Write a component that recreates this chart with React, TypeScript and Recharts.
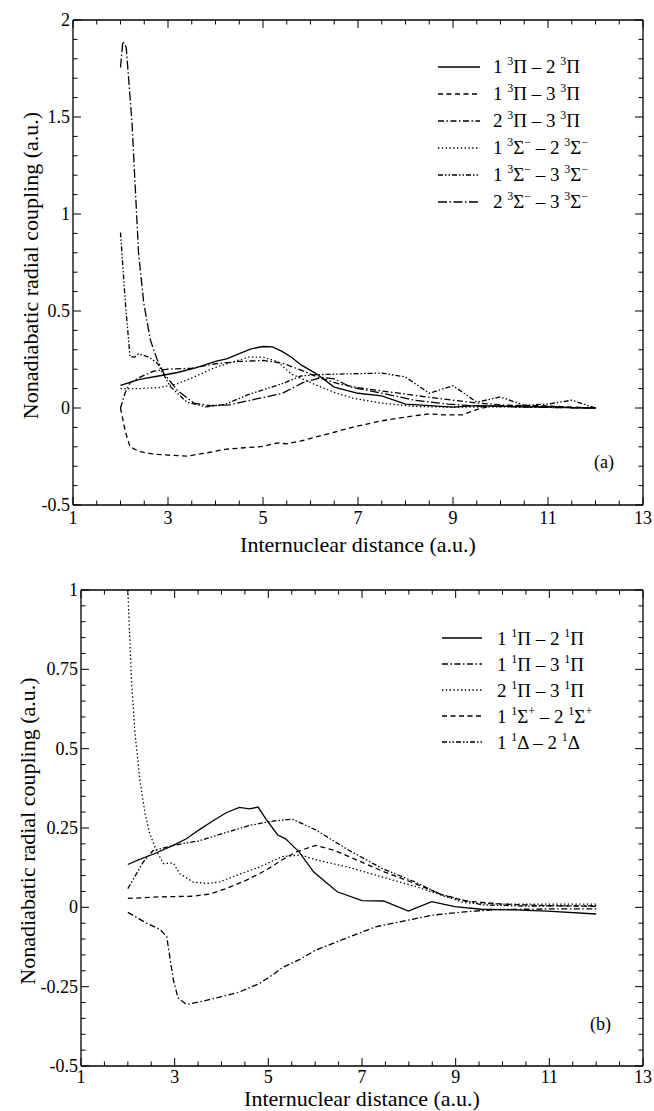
import React from 'react';
import { LineChart, Line, XAxis, YAxis, Legend, Label } from 'recharts';

const FONT = '"Liberation Serif", "Times New Roman", serif';

type Pt = [number, number];

// ---------- tick values ----------
const xTicks = [1, 1.5, 2, 2.5, 3, 3.5, 4, 4.5, 5, 5.5, 6, 6.5, 7, 7.5, 8, 8.5, 9, 9.5, 10, 10.5, 11, 11.5, 12, 12.5, 13];
const xLabels = [1, 3, 5, 7, 9, 11, 13];
const aYTicks = [-0.5, -0.4, -0.3, -0.2, -0.1, 0, 0.1, 0.2, 0.3, 0.4, 0.5, 0.6, 0.7, 0.8, 0.9, 1, 1.1, 1.2, 1.3, 1.4, 1.5, 1.6, 1.7, 1.8, 1.9, 2];
const aYLabels = [-0.5, 0, 0.5, 1, 1.5, 2];
const bYTicks = [-0.5, -0.45, -0.4, -0.35, -0.3, -0.25, -0.2, -0.15, -0.1, -0.05, 0, 0.05, 0.1, 0.15, 0.2, 0.25, 0.3, 0.35, 0.4, 0.45, 0.5, 0.55, 0.6, 0.65, 0.7, 0.75, 0.8, 0.85, 0.9, 0.95, 1];
const bYLabels = [-0.5, -0.25, 0, 0.25, 0.5, 0.75, 1];

// ---------- panel (a) series ----------
const a1: Pt[] = [[2,0.117],[2.4,0.148],[2.8,0.165],[3.2,0.183],[3.6,0.208],[4,0.24],[4.25,0.255],[4.5,0.28],[4.75,0.305],[5,0.317],[5.2,0.315],[5.4,0.292],[5.6,0.262],[5.8,0.222],[6.1,0.18],[6.5,0.108],[7,0.076],[7.5,0.062],[8,0.02],[8.5,0.012],[9,0.005],[9.5,0.012],[10,0.01],[10.5,0.006],[11,0.008],[11.5,0.002],[12,0]];
const a2: Pt[] = [[2,0],[2.1,-0.12],[2.2,-0.2],[2.4,-0.225],[2.7,-0.238],[3,-0.243],[3.4,-0.248],[3.8,-0.232],[4.2,-0.213],[4.6,-0.205],[5,-0.198],[5.3,-0.18],[5.5,-0.185],[5.8,-0.17],[6.1,-0.15],[6.5,-0.125],[6.9,-0.098],[7.5,-0.066],[8,-0.047],[8.5,-0.03],[8.8,-0.035],[9.2,-0.035],[9.5,-0.008],[9.8,0.01],[10.5,0.014],[11,0.01],[11.5,0.005],[12,0]];
const a3: Pt[] = [[2,0],[2.1,0.08],[2.2,0.13],[2.4,0.158],[2.7,0.19],[3,0.2],[3.5,0.205],[4,0.228],[4.5,0.24],[5,0.245],[5.4,0.232],[5.8,0.195],[6.2,0.155],[6.6,0.125],[7,0.105],[7.5,0.088],[8,0.072],[8.5,0.055],[9,0.04],[9.5,0.026],[10,0.016],[10.5,0.01],[11,0.006],[11.5,0.002],[12,0]];
const a4: Pt[] = [[2,0.1],[2.4,0.1],[2.8,0.105],[3.2,0.125],[3.6,0.165],[4,0.21],[4.4,0.24],[4.7,0.262],[5,0.262],[5.3,0.24],[5.6,0.175],[6.1,0.12],[6.5,0.08],[6.9,0.05],[7.5,0.025],[8.2,0.008],[9,0.004],[10,0.006],[11,0.003],[12,0]];
const a5: Pt[] = [[2,0.905],[2.1,0.55],[2.2,0.265],[2.3,0.262],[2.38,0.28],[2.6,0.262],[2.78,0.23],[3.05,0.11],[3.4,0.03],[3.8,0.006],[4.2,0.018],[4.7,0.07],[5.4,0.125],[5.8,0.165],[6.15,0.172],[6.8,0.176],[7.5,0.18],[8,0.16],[8.5,0.076],[9,0.115],[9.5,0.03],[10,0.057],[10.5,0.014],[11,0.02],[11.5,0.04],[12,0]];
const a6: Pt[] = [[2,1.755],[2.05,1.89],[2.12,1.86],[2.24,1.48],[2.31,1.14],[2.38,0.8],[2.49,0.54],[2.63,0.35],[2.77,0.25],[2.91,0.18],[3.2,0.09],[3.55,0.025],[3.9,0.012],[4.3,0.016],[4.73,0.04],[5.4,0.075],[5.85,0.132],[6.25,0.158],[6.5,0.15],[6.85,0.108],[7.5,0.076],[8.2,0.04],[8.9,0.02],[9.5,0.01],[10.5,0.005],[11.5,0.001],[12,0]];

// ---------- panel (b) series ----------
const b1: Pt[] = [[2,0.135],[2.2,0.148],[2.55,0.168],[2.97,0.195],[3.25,0.216],[3.53,0.245],[3.82,0.273],[4.1,0.298],[4.38,0.315],[4.6,0.31],[4.78,0.316],[4.95,0.278],[5.2,0.228],[5.37,0.216],[5.66,0.174],[5.97,0.111],[6.47,0.049],[7,0.021],[7.46,0.02],[7.99,-0.012],[8.49,0.018],[8.98,0.002],[9.55,-0.006],[10.26,-0.008],[10.96,-0.012],[12,-0.021]];
const b2: Pt[] = [[2,-0.016],[2.4,-0.05],[2.68,-0.069],[2.83,-0.092],[2.97,-0.227],[3.07,-0.285],[3.25,-0.306],[3.53,-0.298],[3.96,-0.283],[4.38,-0.267],[4.81,-0.24],[5.1,-0.212],[5.3,-0.19],[5.66,-0.165],[6.01,-0.135],[6.58,-0.102],[7.28,-0.062],[7.99,-0.04],[8.49,-0.025],[9.2,-0.014],[9.9,-0.007],[11,-0.005],[12,-0.005]];
const b3: Pt[] = [[2,1],[2.08,0.71],[2.15,0.554],[2.26,0.398],[2.37,0.294],[2.47,0.231],[2.61,0.179],[2.76,0.138],[2.97,0.14],[3.11,0.106],[3.39,0.08],[3.68,0.075],[3.96,0.08],[4.38,0.104],[4.81,0.127],[5.3,0.16],[5.7,0.165],[6.01,0.15],[6.72,0.126],[7.42,0.096],[8.13,0.066],[8.7,0.038],[9.2,0.014],[10,0.01],[11,0.01],[12,0.01]];
const b4: Pt[] = [[2,0.028],[2.68,0.033],[3.39,0.035],[3.75,0.042],[4.1,0.059],[4.52,0.085],[4.95,0.117],[5.3,0.15],[5.6,0.175],[6.01,0.195],[6.4,0.18],[6.72,0.16],[7.42,0.115],[8.13,0.075],[8.7,0.04],[9.2,0.02],[10,0.01],[11,0.005],[12,0.003]];
const b5: Pt[] = [[2,0.059],[2.33,0.143],[2.54,0.179],[2.97,0.195],[3.53,0.21],[4.1,0.236],[4.6,0.258],[5.1,0.272],[5.51,0.278],[6.01,0.244],[6.72,0.18],[7.42,0.123],[8.13,0.08],[8.7,0.04],[9.55,0.008],[10.5,0.004],[12,0.005]];

const DASH = {
  solid: undefined as string | undefined,
  dashed: '5 3.5',
  dashDot: '6 2.5 1.5 2.5',
  dotted: '1.4 2.4',
  dashDotDot: '5 2 1.5 2 1.5 2',
  longDashDot: '9 2.5 1.5 2.5',
};

const Sup = ({ children }: { children: React.ReactNode }) => (
  <span style={{ fontSize: 12, position: 'relative', top: -8 }}>{children}</span>
);

const lab = (a: string, s: string, sym: string, b: string, sign?: string) => (
  <>
    {a} <Sup>{s}</Sup>{sym}{sign ? <Sup>{sign}</Sup> : null} – {b} <Sup>{s}</Sup>{sym}{sign ? <Sup>{sign}</Sup> : null}
  </>
);

type Series = { key: string; pts: Pt[]; dash?: string; label: React.ReactNode };

const seriesA: Series[] = [
  { key: 'a1', pts: a1, dash: DASH.solid, label: lab('1', '3', 'Π', '2') },
  { key: 'a2', pts: a2, dash: DASH.dashed, label: lab('1', '3', 'Π', '3') },
  { key: 'a3', pts: a3, dash: DASH.dashDot, label: lab('2', '3', 'Π', '3') },
  { key: 'a4', pts: a4, dash: DASH.dotted, label: lab('1', '3', 'Σ', '2', '−') },
  { key: 'a5', pts: a5, dash: DASH.dashDotDot, label: lab('1', '3', 'Σ', '3', '−') },
  { key: 'a6', pts: a6, dash: DASH.longDashDot, label: lab('2', '3', 'Σ', '3', '−') },
];

const seriesB: Series[] = [
  { key: 'b1', pts: b1, dash: DASH.solid, label: lab('1', '1', 'Π', '2') },
  { key: 'b2', pts: b2, dash: DASH.dashDot, label: lab('1', '1', 'Π', '3') },
  { key: 'b3', pts: b3, dash: DASH.dotted, label: lab('2', '1', 'Π', '3') },
  { key: 'b4', pts: b4, dash: DASH.dashed, label: lab('1', '1', 'Σ', '2', '+') },
  { key: 'b5', pts: b5, dash: DASH.dashDotDot, label: lab('1', '1', 'Δ', '2') },
];

const toData = (pts: Pt[]) => pts.map(([x, y]) => ({ x, y }));
const isIn = (v: number, arr: number[]) => arr.some((a) => Math.abs(a - v) < 1e-6);
const fmt = (v: number) => String(Math.round(v * 1000) / 1000);

const TITLE_SIZE = 22;

const makeXTick = (showLabel: boolean, dir: number, labelDy: number) => (p: any) => {
  const v = p.payload.value as number;
  const major = isIn(v, xLabels);
  const len = major ? 8 : 4.5;
  return (
    <g>
      <line x1={p.x} x2={p.x} y1={p.y} y2={p.y + dir * len} stroke="#000" strokeWidth={1} />
      {showLabel && major ? (
        <text x={p.x} y={p.y + labelDy} textAnchor="middle" fontFamily={FONT} fontSize={18} fill="#000">
          {fmt(v)}
        </text>
      ) : null}
    </g>
  );
};

const makeYTick = (labels: number[], showLabel: boolean, dir: number) => (p: any) => {
  const v = p.payload.value as number;
  const major = isIn(v, labels);
  const len = major ? 8 : 4.5;
  return (
    <g>
      <line x1={p.x} x2={p.x + dir * len} y1={p.y} y2={p.y} stroke="#000" strokeWidth={1} />
      {showLabel && major ? (
        <text x={p.x - 3} y={p.y + 6} textAnchor="end" fontFamily={FONT} fontSize={18} fill="#000">
          {fmt(v)}
        </text>
      ) : null}
    </g>
  );
};

const makeLegend = (series: Series[], sampleW: number, gap: number, rowH: number) => () => (
  <div style={{ fontFamily: FONT, fontSize: 19, color: '#000', lineHeight: 1 }}>
    {series.map((s) => (
      <div key={s.key} style={{ display: 'flex', alignItems: 'center', height: rowH, whiteSpace: 'nowrap' }}>
        <svg width={sampleW} height={4} style={{ marginRight: gap, display: 'block' }}>
          <line x1={0} x2={sampleW} y1={2} y2={2} stroke="#000" strokeWidth={1.3} strokeDasharray={s.dash} />
        </svg>
        <span>{s.label}</span>
      </div>
    ))}
  </div>
);

type PanelProps = {
  top: number;
  height: number;
  plot: { top: number; right: number; bottom: number; left: number };
  series: Series[];
  yDomain: [number, number];
  yTicks: number[];
  yLabels: number[];
  labelDy: number;
  xTitleDy: number;
  yTitleDx: number;
  legendPos: { left: number; top: number };
  sampleW: number;
  gap: number;
  rowH: number;
  tag: string;
  tagPos: { left: number; top: number };
};

function Panel(pp: PanelProps) {
  const axisLine = { stroke: '#000', strokeWidth: 1.3 };
  // axes are 1px thick boxes, so the margins are one pixel short of the plot edges
  const margin = {
    top: pp.plot.top - 1,
    right: 654 - pp.plot.right - 1,
    bottom: pp.height - pp.plot.bottom - 1,
    left: pp.plot.left - 1,
  };
  return (
    <div style={{ position: 'absolute', left: 0, top: pp.top, width: 654, height: pp.height }}>
      <LineChart width={654} height={pp.height} margin={margin}>
        <XAxis
          xAxisId="b"
          type="number"
          dataKey="x"
          domain={[1, 13]}
          allowDataOverflow
          ticks={xTicks}
          interval={0}
          height={1}
          tickSize={0}
          tickMargin={0}
          tickLine={false}
          axisLine={axisLine}
          tick={makeXTick(true, -1, pp.labelDy)}
        >
          <Label
            content={(props: any) => {
              const vb = props.viewBox;
              return (
                <text x={vb.x + vb.width / 2} y={vb.y + pp.xTitleDy} textAnchor="middle" fontFamily={FONT} fontSize={TITLE_SIZE} fill="#000">
                  Internuclear distance (a.u.)
                </text>
              );
            }}
          />
        </XAxis>
        <XAxis
          xAxisId="t"
          orientation="top"
          type="number"
          dataKey="x"
          domain={[1, 13]}
          allowDataOverflow
          ticks={xTicks}
          interval={0}
          height={1}
          tickSize={0}
          tickMargin={0}
          tickLine={false}
          axisLine={axisLine}
          tick={makeXTick(false, 1, 0)}
        />
        <YAxis
          yAxisId="l"
          type="number"
          domain={pp.yDomain}
          allowDataOverflow
          ticks={pp.yTicks}
          interval={0}
          width={1}
          tickSize={0}
          tickMargin={0}
          tickLine={false}
          axisLine={axisLine}
          tick={makeYTick(pp.yLabels, true, 1)}
        >
          <Label
            content={(props: any) => {
              const vb = props.viewBox;
              const cx = vb.x + 1 - pp.yTitleDx;
              const cy = vb.y + vb.height / 2 + 3;
              return (
                <text
                  transform={`translate(${cx},${cy}) rotate(-90)`}
                  textAnchor="middle"
                  dominantBaseline="central"
                  fontFamily={FONT}
                  fontSize={TITLE_SIZE}
                  fill="#000"
                >
                  Nonadiabatic radial coupling (a.u.)
                </text>
              );
            }}
          />
        </YAxis>
        <YAxis
          yAxisId="r"
          orientation="right"
          type="number"
          domain={pp.yDomain}
          allowDataOverflow
          ticks={pp.yTicks}
          interval={0}
          width={1}
          tickSize={0}
          tickMargin={0}
          tickLine={false}
          axisLine={axisLine}
          tick={makeYTick(pp.yLabels, false, -1)}
        />
        <Legend
          layout="vertical"
          align="center"
          verticalAlign="middle"
          content={makeLegend(pp.series, pp.sampleW, pp.gap, pp.rowH)}
          wrapperStyle={{ left: pp.legendPos.left, top: pp.legendPos.top, width: 210 }}
        />
        {pp.series.map((s) => (
          <Line
            key={s.key}
            data={toData(s.pts)}
            dataKey="y"
            name={s.key}
            xAxisId="b"
            yAxisId="l"
            type="linear"
            stroke="#000"
            strokeWidth={1.3}
            strokeDasharray={s.dash}
            dot={false}
            activeDot={false}
            isAnimationActive={false}
          />
        ))}
      </LineChart>
      <div style={{ position: 'absolute', left: pp.tagPos.left, top: pp.tagPos.top, fontFamily: FONT, fontSize: 18, color: '#000' }}>
        {pp.tag}
      </div>
    </div>
  );
}

export default function App() {
  return (
    <div style={{ position: 'absolute', left: 0, top: 0, width: 654, height: 1111, background: '#fff' }}>
      <Panel
        top={0}
        height={560}
        plot={{ top: 20, right: 643, bottom: 505, left: 73 }}
        series={seriesA}
        yDomain={[-0.5, 2]}
        yTicks={aYTicks}
        yLabels={aYLabels}
        labelDy={19}
        xTitleDy={47}
        yTitleDx={43}
        legendPos={{ left: 438, top: 53 }}
        sampleW={42}
        gap={13}
        rowH={27}
        tag="(a)"
        tagPos={{ left: 594, top: 452 }}
      />
      <Panel
        top={560}
        height={551}
        plot={{ top: 30, right: 643, bottom: 506, left: 81 }}
        series={seriesB}
        yDomain={[-0.5, 1]}
        yTicks={bYTicks}
        yLabels={bYLabels}
        labelDy={17}
        xTitleDy={40}
        yTitleDx={54}
        legendPos={{ left: 442, top: 625 - 560 }}
        sampleW={40}
        gap={15}
        rowH={26}
        tag="(b)"
        tagPos={{ left: 590, top: 1014 - 560 }}
      />
    </div>
  );
}
